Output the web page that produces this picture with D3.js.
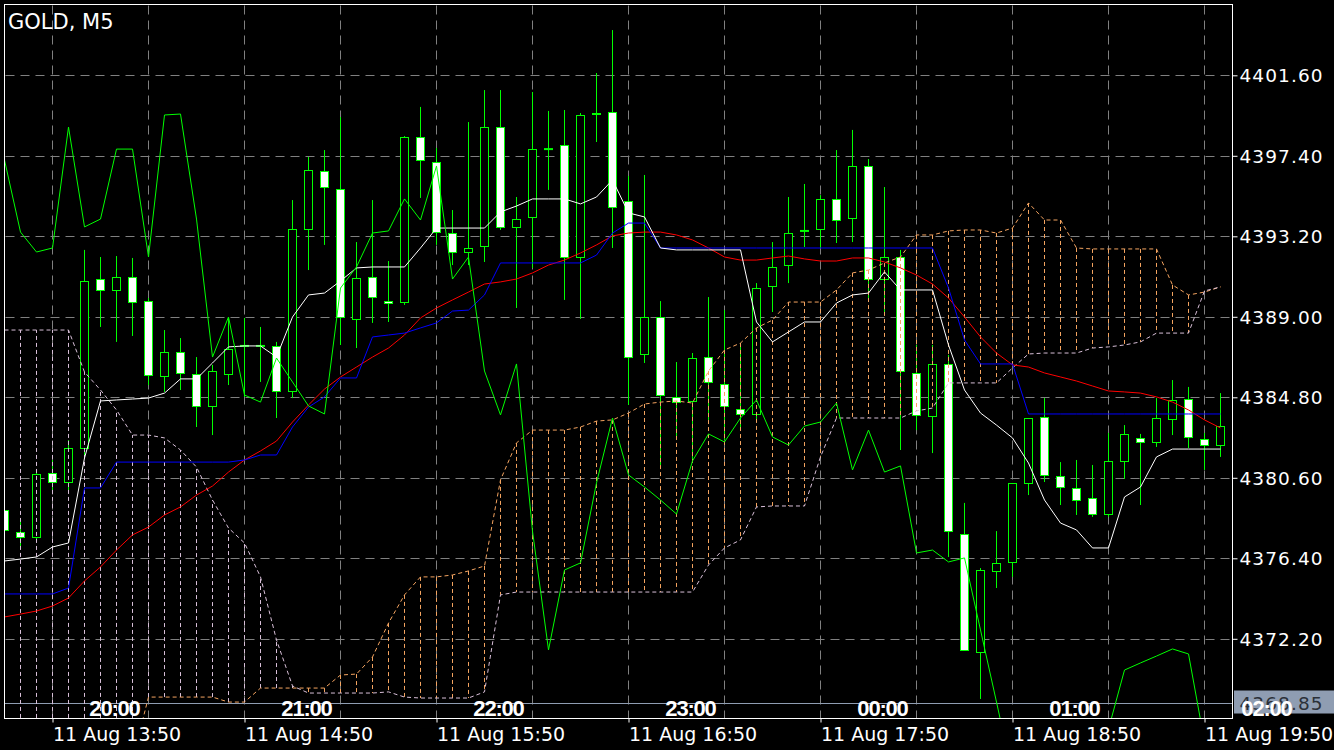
<!DOCTYPE html>
<html><head><meta charset="utf-8">
<script src="https://cdn.jsdelivr.net/npm/d3@7"></script>
<style>html,body{margin:0;padding:0;background:#000;}svg{display:block}</style>
</head><body><svg id="c" width="1334" height="750"></svg>
<script>
const opens = [4378.92,4377.77,4377.51,4380.85,4380.38,4382.15,4390.97,4390.40,4391.08,4389.82,
 4385.91,4387.16,4386.02,4384.35,4386.02,4387.48,4387.48,4387.48,4385.13,4393.58,
 4396.61,4395.67,4388.89,4391.08,4389.80,4389.77,4398.38,4397.08,4393.37,4392.38,
 4392.69,4398.90,4393.69,4394.21,4397.75,4397.96,4392.12,4399.58,4399.69,4395.04,
 4387.06,4388.99,4384.82,4384.61,4386.90,4385.49,4384.19,4383.93,4390.61,4391.70,
 4393.48,4393.58,4395.15,4394.15,4396.87,4390.97,4392.12,4386.07,4383.82,4386.54,
 4377.67,4371.51,4375.74,4376.21,4380.33,4383.77,4380.69,4380.07,4379.55,4378.71,
 4381.48,4382.68,4382.47,4383.67,4384.71,4382.62,4382.31];
const highs = [4379.18,4378.29,4381.01,4381.53,4382.57,4392.49,4392.12,4392.17,4392.07,4389.98,
 4388.31,4387.89,4386.90,4386.49,4388.94,4388.94,4388.47,4387.69,4395.09,4397.34,
 4397.70,4399.42,4392.90,4395.09,4391.91,4398.43,4399.95,4397.81,4394.57,4399.16,
 4400.83,4400.83,4395.25,4400.73,4399.74,4399.79,4399.63,4401.72,4403.96,4396.35,
 4396.40,4389.82,4386.64,4387.11,4390.03,4389.35,4387.63,4390.76,4392.90,4395.25,
 4395.93,4395.35,4397.70,4398.75,4397.23,4395.77,4392.49,4387.53,4387.53,4387.01,
 4379.29,4375.89,4377.82,4380.33,4383.72,4384.76,4381.42,4381.53,4381.27,4382.94,
 4383.35,4382.89,4384.76,4385.70,4385.34,4382.94,4385.02];
const lows = [4377.62,4376.94,4377.36,4379.96,4379.96,4381.79,4388.47,4387.69,4388.00,4385.44,
 4385.08,4385.18,4383.25,4382.83,4385.44,4384.82,4385.60,4383.72,4384.76,4391.44,
 4392.75,4387.53,4387.37,4388.68,4388.73,4389.62,4395.20,4392.75,4391.70,4391.70,
 4391.86,4393.53,4389.46,4391.55,4395.62,4389.88,4388.89,4398.12,4392.59,4384.40,
 4386.59,4381.27,4382.57,4381.53,4383.62,4382.57,4383.09,4383.62,4389.25,4390.76,
 4392.64,4392.59,4392.85,4392.90,4389.88,4389.20,4382.05,4383.09,4381.89,4376.47,
 4371.62,4369.06,4374.85,4375.43,4379.70,4380.38,4379.18,4378.66,4378.56,4378.56,
 4380.54,4379.18,4382.21,4382.83,4382.15,4381.01,4381.69];
const closes = [4377.88,4377.51,4380.80,4380.38,4382.15,4390.87,4390.40,4391.08,4389.77,4385.96,
 4387.16,4386.07,4384.35,4386.17,4387.32,4387.48,4387.48,4385.13,4393.58,4396.66,
 4395.77,4388.99,4391.02,4390.03,4389.72,4398.38,4397.18,4393.42,4392.38,4392.59,
 4398.90,4393.69,4394.10,4397.75,4397.75,4392.12,4399.53,4399.58,4394.73,4386.90,
 4388.99,4384.92,4384.55,4386.85,4385.60,4384.35,4383.93,4390.50,4391.60,4393.37,
 4393.48,4395.15,4394.05,4396.87,4390.97,4392.12,4386.17,4383.88,4386.54,4377.82,
 4371.62,4375.79,4376.16,4380.33,4383.72,4380.75,4380.12,4379.44,4378.71,4381.48,
 4382.89,4382.47,4383.72,4384.66,4382.73,4382.31,4383.30];
const tenkan = [4376.26,4376.36,4376.47,4376.99,4377.20,4381.63,4384.61,4384.66,4384.71,4384.76,
 4385.02,4385.76,4385.76,4386.59,4387.43,4387.48,4387.48,4386.90,4388.99,4390.14,
 4390.24,4390.87,4391.55,4391.60,4391.60,4391.60,4392.59,4393.63,4393.63,4393.63,
 4393.63,4394.47,4394.78,4395.15,4395.15,4395.15,4394.89,4395.25,4396.14,4394.42,
 4394.21,4392.59,4392.49,4392.49,4392.49,4392.49,4392.49,4388.73,4387.69,4388.21,
 4388.73,4388.73,4389.72,4390.14,4390.24,4391.34,4390.40,4390.40,4390.40,4387.53,
 4385.18,4383.98,4383.35,4382.68,4381.37,4379.44,4378.24,4377.88,4376.94,4376.94,
 4379.60,4380.12,4381.69,4382.10,4382.10,4382.10,4382.10];
const kijun = [4374.54,4374.54,4374.54,4374.54,4374.85,4380.07,4380.07,4381.42,4381.42,4381.42,
 4381.42,4381.42,4381.42,4381.42,4381.42,4381.53,4381.79,4381.79,4383.25,4384.29,
 4384.82,4385.81,4385.81,4387.95,4388.05,4388.15,4388.42,4388.68,4389.30,4389.35,
 4390.14,4391.81,4391.81,4391.81,4391.81,4391.81,4391.81,4392.22,4393.37,4393.89,
 4393.89,4392.59,4392.59,4392.59,4392.59,4392.59,4392.59,4392.59,4392.59,4392.59,
 4392.59,4392.59,4392.59,4392.59,4392.59,4392.59,4392.59,4392.59,4392.59,4390.50,
 4387.79,4386.54,4386.54,4386.54,4383.93,4383.93,4383.93,4383.93,4383.93,4383.93,
 4383.93,4383.93,4383.93,4383.93,4383.93,4383.93,4383.93];
const movingAvg = [4373.34,4373.49,4373.65,4373.91,4374.33,4375.22,4375.95,4376.83,4377.62,4378.03,
 4378.66,4379.08,4379.70,4380.17,4380.90,4381.53,4382.00,4382.52,4383.51,4384.40,
 4385.23,4385.86,4386.38,4386.90,4387.37,4388.05,4388.94,4389.46,4389.88,4390.29,
 4390.71,4390.82,4390.97,4391.29,4391.70,4391.96,4392.33,4392.75,4393.22,4393.37,
 4393.42,4393.42,4393.27,4393.01,4392.59,4392.12,4391.96,4391.96,4392.07,4392.17,
 4392.02,4391.91,4391.91,4392.07,4392.07,4391.86,4391.55,4391.18,4390.71,4389.98,
 4388.99,4387.95,4387.11,4386.49,4386.38,4386.07,4385.86,4385.65,4385.39,4385.13,
 4385.08,4385.02,4384.82,4384.55,4384.14,4383.62,4383.20];
const chikou = [4397.18,4393.42,4392.38,4392.59,4398.90,4393.69,4394.10,4397.75,4397.75,4392.12,
 4399.53,4399.58,4394.10,4386.90,4388.99,4384.92,4384.55,4386.85,4385.60,4384.35,
 4383.93,4390.50,4391.60,4393.37,4393.48,4395.15,4394.05,4396.87,4390.97,4392.12,
 4386.17,4383.88,4386.54,4377.82,4371.62,4375.79,4376.16,4380.33,4383.72,4380.75,
 4380.12,4379.44,4378.71,4381.48,4382.89,4382.47,4383.72,4384.66,4382.73,4382.31,
 4383.30,4383.51,4384.50,4381.01,4383.09,4380.90,4381.22,4376.68,4376.83,4376.21,
 4376.42,4372.66,4368.90,4365.09,4364.83,4364.83,4364.83,4364.83,4364.83,4367.49,
 4370.57,4370.94,4371.30,4371.67,4371.41,4366.82];
const spanA = [4365.88,4365.88,4365.88,4365.88,4365.88,4365.88,4365.88,4365.88,4365.88,4369.16,
 4369.16,4369.16,4369.16,4369.16,4368.90,4368.90,4369.63,4369.63,4369.63,4369.63,
 4369.63,4370.31,4370.36,4371.25,4373.02,4374.49,4375.43,4375.43,4375.53,4375.74,
 4376.00,4380.49,4382.42,4383.09,4383.09,4383.09,4383.25,4383.56,4383.62,4383.98,
 4384.45,4384.55,4384.61,4384.50,4386.17,4387.27,4387.63,4388.42,4388.83,4389.77,
 4389.77,4389.77,4390.40,4391.29,4391.44,4391.81,4392.12,4393.27,4393.27,4393.48,
 4393.53,4393.53,4393.37,4393.63,4394.94,4394.05,4394.05,4392.59,4392.54,4392.54,
 4392.54,4392.54,4392.54,4390.66,4390.14,4390.29,4390.56];
const spanB = [4388.31,4388.31,4388.31,4388.31,4388.31,4386.12,4385.18,4384.14,4382.83,4382.83,
 4382.68,4382.05,4381.16,4379.44,4377.98,4377.20,4375.43,4372.14,4369.74,4369.37,
 4369.37,4369.37,4369.37,4369.37,4369.43,4369.16,4369.11,4369.11,4369.11,4369.11,
 4369.43,4374.49,4374.64,4374.64,4374.64,4374.64,4374.64,4374.64,4374.64,4374.64,
 4374.64,4374.64,4374.64,4374.64,4376.05,4376.94,4377.36,4379.08,4379.13,4379.13,
 4379.13,4381.69,4383.72,4383.72,4383.72,4383.72,4383.72,4384.09,4384.24,4385.55,
 4385.55,4385.55,4385.55,4386.33,4387.06,4387.11,4387.11,4387.11,4387.37,4387.43,
 4387.53,4387.69,4388.15,4388.15,4388.15,4390.35,4390.56];
const priceTicks = [4401.60,4397.40,4393.20,4389.00,4384.80,4380.60,4376.40,4372.20];
const dateLabels = ["11 Aug 13:50","11 Aug 14:50","11 Aug 15:50","11 Aug 16:50","11 Aug 17:50","11 Aug 18:50","11 Aug 19:50"];
const dateTickBars = [3,15,27,39,51,63,75];
const sessionLabels = ["20:00","21:00","22:00","23:00","00:00","01:00","02:00"];
const sessionBars = [5,17,29,41,53,65,77];
const symbolTitle = "GOLD, M5";
const markerPrice = 4368.85;

const W=1334,H=750;
const PL=4.5,PT=4.5,PR=1232.5,PB=718.5;
const x = d3.scaleLinear().domain([0,76]).range([4.5,1220.5]);
const y = d3.scaleLinear().domain([4368.0,4401.6]).range([719.3,75.3]);
const yr = v => Math.round(y(v))+0.5;
const GREEN='#00ff00', ORANGE='#F4A460', THISTLE='#D8BFD8';

const svg=d3.select('#c');
svg.append('rect').attr('width',W).attr('height',H).attr('fill','#000');
svg.append('defs').append('clipPath').attr('id','plot')
  .append('rect').attr('x',5).attr('y',5).attr('width',PR-PL-1).attr('height',PB-PT-1);

// grid
const grid=svg.append('g').attr('stroke','#808080').attr('stroke-width',1).attr('stroke-dasharray','9,6');
grid.selectAll('line.v').data(d3.range(3,77,6)).join('line').attr('class','v')
  .attr('x1',d=>x(d)).attr('x2',d=>x(d)).attr('y1',PT+1).attr('y2',PB);
grid.selectAll('line.h').data(priceTicks).join('line').attr('class','h')
  .attr('x1',PL+1).attr('x2',PR).attr('y1',d=>yr(d)).attr('y2',d=>yr(d));

const plot=svg.append('g').attr('clip-path','url(#plot)');

// price marker line
plot.append('line').attr('x1',PL).attr('x2',PR).attr('y1',yr(markerPrice)).attr('y2',yr(markerPrice))
  .attr('stroke','#8f9db2').attr('stroke-width',1);

// candles
const idx=d3.range(opens.length);
const cg=plot.append('g');
cg.selectAll('line.w').data(idx).join('line').attr('class','w')
  .attr('x1',i=>x(i)).attr('x2',i=>x(i)).attr('y1',i=>y(highs[i])).attr('y2',i=>y(lows[i]))
  .attr('stroke',GREEN).attr('stroke-width',1);
idx.forEach(i=>{
  const o=opens[i], c=closes[i], cx=x(i);
  if (Math.abs(o-c)<0.05){
    cg.append('line').attr('x1',cx-4.5).attr('x2',cx+4.5).attr('y1',y(o)).attr('y2',y(o))
      .attr('stroke',GREEN).attr('stroke-width',2);
  } else {
    const t=yr(Math.max(o,c)), b=yr(Math.min(o,c));
    cg.append('rect').attr('x',cx-4).attr('y',t).attr('width',8).attr('height',Math.max(1,b-t))
      .attr('fill',c<o?'#ffffff':'#000000').attr('stroke',GREEN).attr('stroke-width',1);
  }
});

// cloud hatch
const hg=plot.append('g').attr('stroke-width',1).attr('stroke-dasharray','4,3');
hg.selectAll('line').data(idx).join('line')
  .attr('x1',i=>x(i)).attr('x2',i=>x(i)).attr('y1',i=>y(spanA[i])).attr('y2',i=>y(spanB[i]))
  .attr('stroke',i=>spanA[i]>=spanB[i]?ORANGE:THISTLE);

const mkLine=d3.line().x((d,i)=>x(i)).y(d=>y(d));
function drawLine(data,color,dash){
  const p=plot.append('path').attr('d',mkLine(data)).attr('fill','none')
    .attr('stroke',color).attr('stroke-width',1);
  if(dash) p.attr('stroke-dasharray',dash);
}
drawLine(spanA,ORANGE,'4,3');
drawLine(spanB,THISTLE,'4,3');
drawLine(movingAvg,'#ff0000');
drawLine(kijun,'#0000ff');
drawLine(tenkan,'#ffffff');
drawLine(chikou,GREEN);

// border
svg.append('rect').attr('x',PL).attr('y',PT).attr('width',PR-PL).attr('height',PB-PT)
  .attr('fill','none').attr('stroke','#ffffff').attr('stroke-width',1);

// right axis
const ya=svg.append('g').attr('transform',`translate(${PR},0)`)
  .call(d3.axisRight(y).tickValues(priceTicks).tickFormat(d3.format('.2f')).tickSize(5).tickPadding(2));
ya.select('.domain').remove();
ya.selectAll('line').attr('stroke','#fff');
ya.selectAll('text').attr('fill','#fff').attr('font-family','DejaVu Sans').attr('font-size',18.5)
  .attr('letter-spacing','1.1px').attr('dy','0.36em');

// bottom axis
const xa=svg.append('g').attr('transform',`translate(0,${PB})`)
  .call(d3.axisBottom(x).tickValues(dateTickBars).tickFormat((d,i)=>dateLabels[i]).tickSize(4));
xa.select('.domain').remove();
xa.selectAll('line').attr('stroke','#fff');
xa.selectAll('text').attr('fill','#fff').attr('font-family','DejaVu Sans').attr('font-size',19)
  .attr('text-anchor','start').attr('x',0).attr('y',22).attr('dy',0);

// price marker box
const my=y(markerPrice);
svg.append('rect').attr('x',1234).attr('y',my-12.5).attr('width',100).attr('height',23).attr('fill','#8f9db2');
svg.append('text').attr('x',1239.5).attr('y',my+6.5).text(d3.format('.2f')(markerPrice))
  .attr('fill','#2b3038').attr('font-family','DejaVu Sans').attr('font-size',18.5).attr('letter-spacing','1.1px');

// session time labels
svg.selectAll('text.sess').data(sessionLabels).join('text').attr('class','sess')
  .attr('x',(d,i)=>x(sessionBars[i])+30).attr('y',716).attr('text-anchor','middle')
  .attr('fill','#fff').attr('font-family','Liberation Sans').attr('font-weight','bold')
  .attr('font-size',22).attr('letter-spacing','-1.2px').text(d=>d);

// title
svg.append('text').attr('x',8).attr('y',29.3).text(symbolTitle).attr('fill','#fff')
  .attr('font-family','DejaVu Sans').attr('font-size',21);
</script></body></html>
